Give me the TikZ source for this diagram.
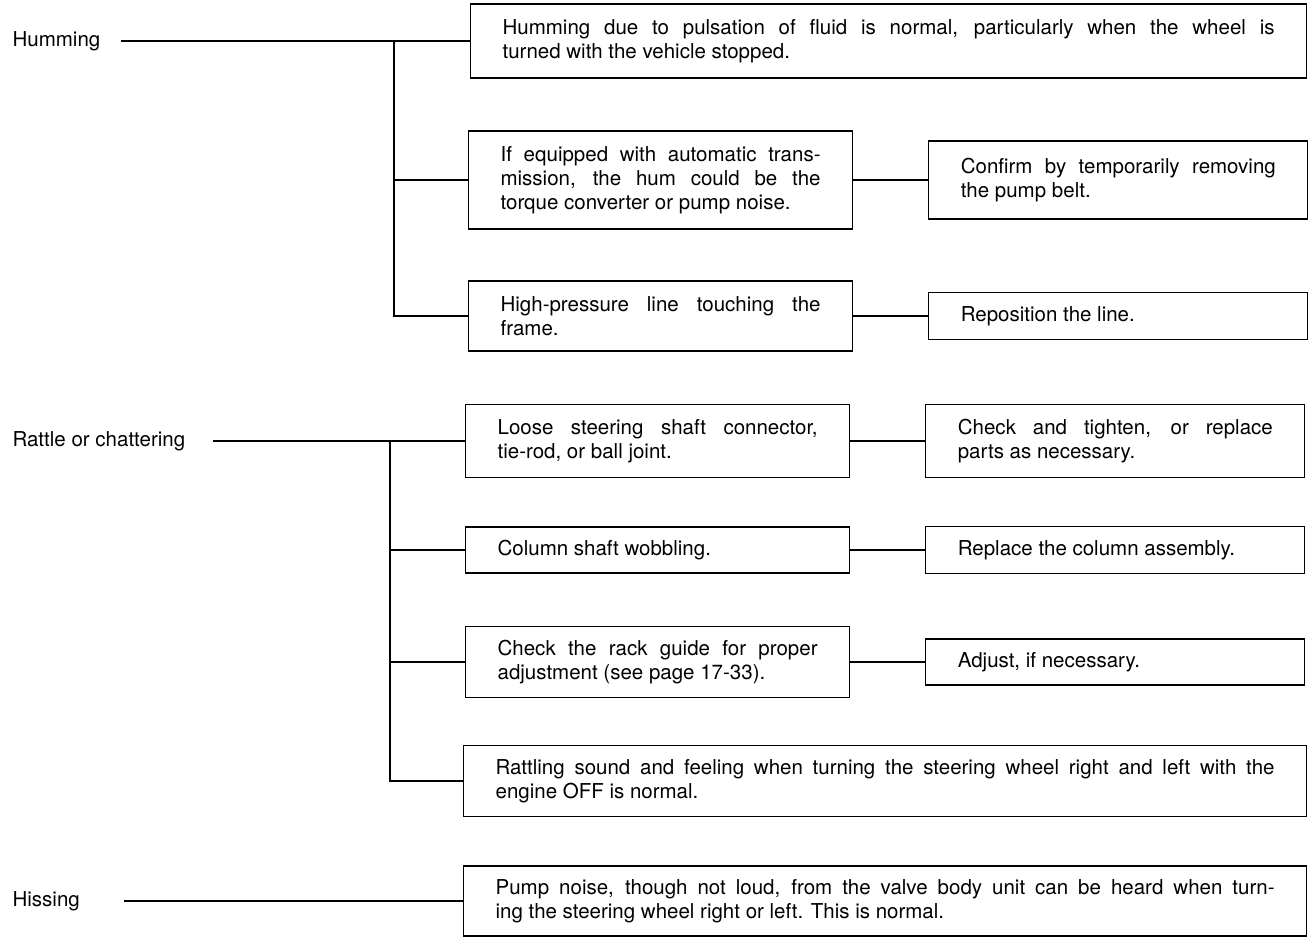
\documentclass[tikz,border=0pt]{standalone}
\usepackage{fontspec}
\setmainfont{TeX Gyre Heros}
\usetikzlibrary{positioning}

\begin{document}
\begin{tikzpicture}[x=1pt, y=-1pt, line width=1.2pt,
        every node/.style={font=\fontsize{20.5}{24}\selectfont},
        noise/.style={anchor=west, inner sep=0pt},
        cause/.style={draw, anchor=west, align=justify, inner xsep=32pt, inner ysep=0pt, text width=320pt,
            execute at begin node={\tolerance=10000\hyphenpenalty=10000}},
        remedy/.style={cause, text width=315pt},
        wide/.style={cause, text width=779pt}]
    \useasboundingbox (0,0) rectangle (1308,941);
    % humming
    \node[noise] (hum) at (12,41) {Humming};
    \node[wide, text width=772pt, minimum height=74pt] (h1) at (470,41) {Humming due to pulsation of fluid is normal, particularly when the wheel is\linebreak turned with the vehicle stopped.};
    \node[cause, minimum height=98pt] (h2) at (468,180) {If equipped with automatic trans-\linebreak mission, the hum could be the\linebreak torque converter or pump noise.};
    \node[cause, minimum height=70pt] (h3) at (468,316) {High-pressure line touching the\linebreak frame.};
    \node[remedy, minimum height=78pt, right=75pt of h2] (fix-h2) {Confirm by temporarily removing\linebreak the pump belt.};
    \node[remedy, minimum height=47pt, right=75pt of h3] (fix-h3) {Reposition the line.};
    % rattle
    \node[noise] (rat) at (12,441) {Rattle or chattering};
    \node[cause, minimum height=73pt] (r1) at (465,441) {Loose steering shaft connector,\linebreak tie-rod, or ball joint.};
    \node[cause, minimum height=46pt] (r2) at (465,550) {Column shaft wobbling.};
    \node[cause, minimum height=71pt] (r3) at (465,662) {Check the rack guide for proper\linebreak adjustment (see page 17-33).};
    \node[wide, minimum height=71pt] (r4) at (463,781) {Rattling sound and feeling when turning the steering wheel right and left with the\linebreak engine OFF is normal.};
    \node[remedy, minimum height=73pt, right=75pt of r1] (fix-r1) {Check and tighten, or replace\linebreak parts as necessary.};
    \node[remedy, minimum height=47pt, right=75pt of r2] (fix-r2) {Replace the column assembly.};
    \node[remedy, minimum height=46pt, right=75pt of r3] (fix-r3) {Adjust, if necessary.};
    % hissing
    \node[noise] (his) at (12,901) {Hissing};
    \node[wide, minimum height=70pt] (s1) at (463,901) {Pump noise, though not loud, from the valve body unit can be heard when turn-\linebreak ing the steering wheel right or left. This is normal.};

    \coordinate (hj) at (394,41);
    \coordinate (rj) at (390,441);
    \draw ([xshift=20pt]hum.east) -- (h1.west);
    \draw ([xshift=27pt]rat.east) -- (r1.west);
    \draw ([xshift=44pt]his.east) -- (s1.west);
    \foreach \n in {h2,h3}
        \draw (hj) |- (\n.west);
    \foreach \n in {r2,r3,r4}
        \draw (rj) |- (\n.west);
    \foreach \n in {h2,h3,r1,r2,r3}
        \draw (\n.east) -- (fix-\n.west);
\end{tikzpicture}
\end{document}
